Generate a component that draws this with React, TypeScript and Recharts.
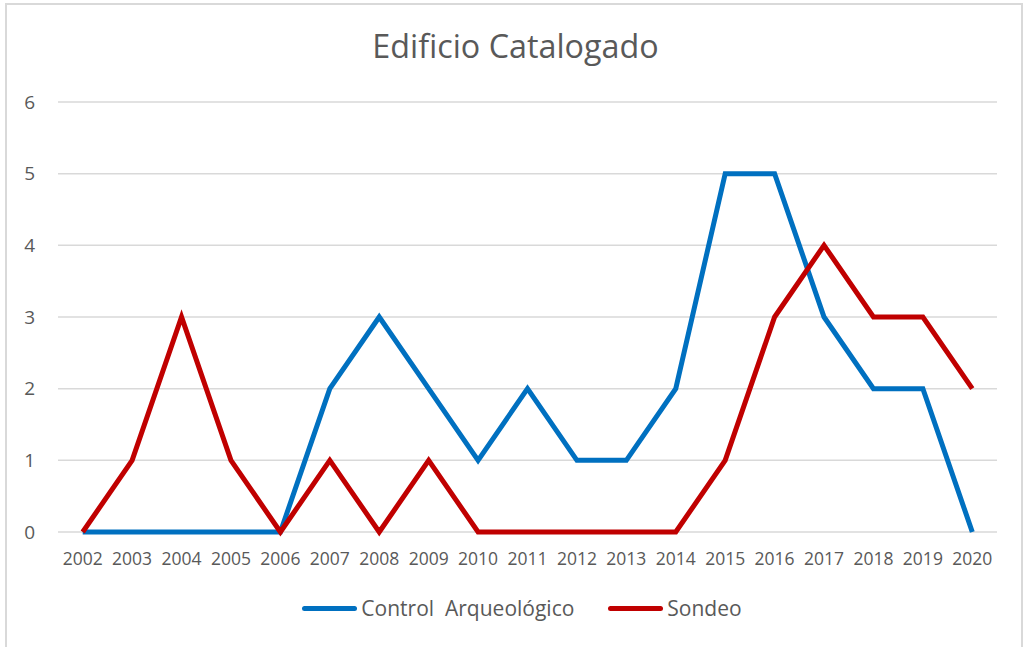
import React from "react";
import { LineChart, Line, XAxis, YAxis, CartesianGrid, Legend } from "recharts";

const years = ["2002","2003","2004","2005","2006","2007","2008","2009","2010","2011","2012","2013","2014","2015","2016","2017","2018","2019","2020"];
const controlArqueologico = [0,0,0,0,0,2,3,2,1,2,1,1,2,5,5,3,2,2,0];
const sondeo = [0,1,3,1,0,1,0,1,0,0,0,0,0,1,3,4,3,3,2];
const yTicks = [0,1,2,3,4,5,6];

const data = years.map((y, i) => ({ year: y, control: controlArqueologico[i], sondeo: sondeo[i] }));

const FONT = "'Open Sans', 'DejaVu Sans', sans-serif";
const TEXT = "#595959";

const LegendContent = (props: any) => {
  const { payload } = props;
  return (
    <div style={{ display: "flex", justifyContent: "center", alignItems: "center", fontFamily: FONT, fontSize: 21, lineHeight: "27px", height: 27, color: TEXT, paddingLeft: 29 }}>
      {(payload || []).map((p: any, i: number) => (
        <div key={i} style={{ display: "flex", alignItems: "center", marginRight: i === 0 ? 34 : 0 }}>
          <div style={{ width: 55, height: 5, borderRadius: 3, background: p.color, marginRight: 4 }} />
          <span style={{ whiteSpace: "pre" }}>{p.value}</span>
        </div>
      ))}
    </div>
  );
};

export default function App() {
  return (
    <div style={{ position: "fixed", left: 0, top: 0, width: 1029, height: 647, background: "#fff", overflow: "hidden" }}>
      <div style={{ position: "absolute", left: 5, top: 3, width: 1018, height: 700, border: "2px solid #d9d9d9", boxSizing: "border-box" }} />
      <div style={{ position: "absolute", left: 0, top: 23, width: 1031, textAlign: "center", fontFamily: FONT, fontSize: 32.3, color: TEXT }}>
        Edificio Catalogado
      </div>
      <div style={{ position: "absolute", left: 0, top: 0 }}>
        <LineChart width={1029} height={647} data={data} margin={{ top: 102, right: 32, bottom: 58, left: 18 }}>
          <CartesianGrid horizontal vertical={false} stroke="#d9d9d9" strokeWidth={1.5} />
          <XAxis
            dataKey="year"
            height={30}
            padding={{ left: 24.7, right: 24.7 }}
            axisLine={false}
            tickLine={false}
            tickSize={0}
            tickMargin={21}
            interval={0}
            tick={{ fill: TEXT, fontSize: 17.5, fontFamily: FONT }}
          />
          <YAxis
            width={40}
            domain={[0, 6]}
            ticks={yTicks}
            axisLine={false}
            tickLine={false}
            tickSize={0}
            tickMargin={23}
            tick={{ fill: TEXT, fontSize: 19, fontFamily: FONT }}
          />
          <Legend verticalAlign="bottom" height={27} content={<LegendContent />} wrapperStyle={{ bottom: 25 }} />
          <Line type="linear" dataKey="control" name="Control  Arqueológico" stroke="#0070C0" strokeWidth={5} dot={false} isAnimationActive={false} />
          <Line type="linear" dataKey="sondeo" name="Sondeo" stroke="#C00000" strokeWidth={5} dot={false} isAnimationActive={false} />
        </LineChart>
      </div>
    </div>
  );
}
